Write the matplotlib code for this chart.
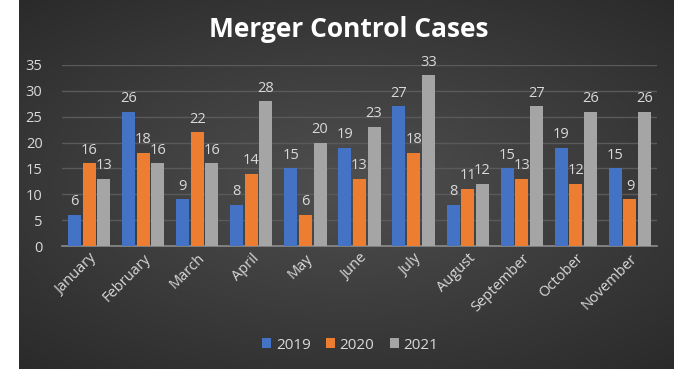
import numpy as np
import matplotlib
matplotlib.use("Agg")
from matplotlib import pyplot as plt

months = ["January", "February", "March", "April", "May", "June", "July",
          "August", "September", "October", "November"]
y2019 = [6, 26, 9, 8, 15, 19, 27, 8, 15, 19, 15]
y2020 = [16, 18, 22, 14, 6, 13, 18, 11, 13, 12, 9]
y2021 = [13, 16, 16, 28, 20, 23, 33, 12, 27, 26, 26]
series = [("2019", y2019, "#4472C4"), ("2020", y2020, "#ED7D31"), ("2021", y2021, "#A5A5A5")]

plt.rcParams["font.family"] = ["Open Sans", "DejaVu Sans"]
txt = "#D9D9D9"

fig = plt.figure(figsize=(6.8, 3.71), dpi=100)
fig.patch.set_facecolor("white")

# radial gradient background
bg = fig.add_axes([19 / 680, 0.005, 655 / 680, 0.995])
yy, xx = np.mgrid[-1:1:200j, -1:1:360j]
r = np.sqrt((xx * 0.9) ** 2 + (yy * 1.0) ** 2)
shade = 0.31 - 0.15 * np.clip(r, 0, 1.4) / 1.4
bg.imshow(np.dstack([shade] * 3), aspect="auto", extent=[0, 1, 0, 1])
bg.axis("off")

ax = fig.add_axes([62 / 680, 1 - 246 / 371, 595 / 680, 181 / 371])
ax.set_facecolor("none")
x = np.arange(len(months))
w = 0.24
for i, (lab, vals, col) in enumerate(series):
    bars = ax.bar(x + (i - 1) * 0.27, vals, w, color=col, label=lab, zorder=3)
    for b, v in zip(bars, vals):
        ax.text(b.get_x() + b.get_width() / 2, v + 1.1, str(v), ha="center", va="bottom",
                color=txt, fontsize=10.5)

ax.set_xlim(-0.5, len(months) - 0.5)
ax.set_ylim(0, 35)
ax.set_yticks(range(0, 36, 5))
ax.yaxis.grid(True, color="#5a5a5a", linewidth=1, zorder=0)
for s in ["top", "right", "left"]:
    ax.spines[s].set_visible(False)
ax.spines["bottom"].set_color("#8c8c8c")
ax.spines["bottom"].set_linewidth(1.2)
ax.tick_params(axis="both", length=0, colors=txt, labelsize=10.5)
ax.tick_params(axis="y", pad=14)
ax.set_xticks(x)
ax.set_xticklabels(months, rotation=45, ha="right", rotation_mode="anchor")

fig.text(0.513, 0.92, "Merger Control Cases", ha="center", va="center", color="white",
         fontsize=19, fontweight="bold")

leg = fig.legend(loc="center", bbox_to_anchor=(0.515, 0.07), ncol=3, frameon=False,
                 fontsize=11, handlelength=0.6, handleheight=0.6, handletextpad=0.3,
                 columnspacing=1.0)
for t in leg.get_texts():
    t.set_color(txt)

fig.savefig("out.png", dpi=100, facecolor=fig.get_facecolor())
